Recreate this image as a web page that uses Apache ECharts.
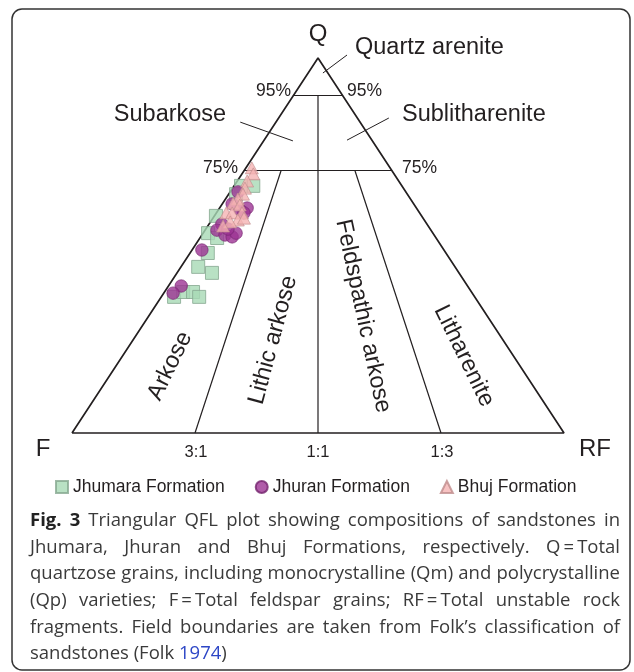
<!DOCTYPE html>
<html><head><meta charset="utf-8">
<script src="https://cdn.jsdelivr.net/npm/echarts@6/dist/echarts.min.js"></script>
<style>html,body{margin:0;padding:0;background:#fff}#c{width:634px;height:672px}</style>
</head><body><div id="c"></div>
<script>
// ---- data (ternary values [Q, F, RF] in %) ----
const seriesNames = ['Jhumara Formation', 'Jhuran Formation', 'Bhuj Formation'];
const jhumara = [
  [65.9,30.2,3.9],[65.9,32.7,1.4],[63.7,34.8,1.5],[57.9,41.8,0.3],[53.3,45.7,1.0],
  [52.0,44.5,3.5],[48.0,48.4,3.6],[44.3,52.2,3.5],[42.7,50.2,7.1],[36.3,61.1,2.6],
  [37.6,58.6,3.8],[37.6,56.6,5.8],[36.3,56.0,7.7]
];
const jhuran = [
  [64.3,34.1,1.6],[60.0,34.4,5.6],[59.5,36.1,4.4],[61.1,36.9,2.0],[55.7,41.7,2.6],
  [54.1,43.5,2.4],[52.8,42.5,4.7],[52.3,41.3,6.4],[53.3,40.0,6.7],[54.4,41.1,4.5],
  [58.7,35.7,5.6],[48.8,49.2,2.0],[39.2,58.2,2.6],[37.3,60.8,1.9]
];
const bhuj = [
  [70.7,28.1,1.2],[69.1,28.6,2.3],[67.2,30.8,2.0],[65.3,32.2,2.5],[63.7,33.4,2.9],
  [62.4,35.1,2.5],[61.3,36.6,2.1],[60.8,35.5,3.7],[58.7,39.3,2.0],[58.7,38.1,3.2],
  [58.7,36.1,5.2],[56.8,37.9,5.3],[56.3,39.7,4.0],[57.3,36.4,6.3],[55.2,41.7,3.1]
];
// field boundaries as drawn in the figure
const vertexQ = [100,0,0], vertexF = [0,100,0], vertexRF = [0,0,100];
const qLines = [90, 70];                 // drawn lines labelled 95% and 75%
const qLineLabels = ['95%', '75%'];
const ratioLines = [[0.75, 70], [0.5, 90], [0.25, 70]]; // [F/(F+RF), top Q]
const ratioLabels = ['3:1', '1:1', '1:3'];
// ---------------------------------------------

function tern(p){ const [q,f,rf] = p; const s=q+f+rf; return [ (rf + q/2)*100/s, q*100/s ]; }

const chart = echarts.init(document.getElementById('c'), null, {renderer:'canvas'});
const lineCol = '#231f20';
const mkLine = (pts, w) => ({ type:'line', data: pts.map(tern), symbol:'none', silent:true,
  lineStyle:{color:lineCol, width:w}, clip:false, animation:false, legendHoverLink:false });

const series = [];
series.push(mkLine([vertexF, vertexRF, vertexQ, vertexF], 1.7));
qLines.forEach(q => series.push(mkLine([[q,100-q,0],[q,0,100-q]], 1.2)));
ratioLines.forEach(([r,qt]) => series.push(mkLine([[qt,(100-qt)*r,(100-qt)*(1-r)],[0,100*r,100*(1-r)]], 1.2)));
// leader lines (cartesian data coords)
const leaders = [ [[51.0,96.0],[55.9,100.8]], [[34.2,82.9],[44.9,77.9]], [[64.4,84.0],[55.9,78.1]] ];
leaders.forEach(l => series.push({type:'line', data:l, symbol:'none', silent:true, clip:false,
  lineStyle:{color:lineCol, width:1}, animation:false}));

series.push({ name: seriesNames[0], type:'scatter', data: jhumara.map(tern), symbol:'rect', symbolSize:13,
  itemStyle:{color:'#a8dab5', borderColor:'#86a890', borderWidth:1}, z:3 });
series.push({ name: seriesNames[1], type:'scatter', data: jhuran.map(tern), symbol:'circle', symbolSize:12.5,
  itemStyle:{color:'#9c3394', borderColor:'#74246e', borderWidth:0.8}, z:4 });
series.push({ name: seriesNames[2], type:'scatter', data: bhuj.map(tern), symbol:'triangle', symbolSize:[13,12],
  itemStyle:{color:'#f5b3b3', borderColor:'#bf8c8c', borderWidth:0.8}, z:5 });

const lab = 'Liberation Sans';
const T = (x,y,text,size,align,rot) => ({ type:'text', x, y, rotation: (rot||0)*Math.PI/180,
  style:{ text, fontSize:size, fontFamily:lab, fill:lineCol, textAlign:align||'center', textVerticalAlign:'middle' }, z:10 });

const graphics = [
  { type:'rect', shape:{x:12, y:9, width:618, height:661, r:10}, style:{fill:'none', stroke:'#333', lineWidth:1.5}, z:0 },
  T(318,34,'Q',24), T(355,48,'Quartz arenite',23.5,'left'),
  T(291,91,qLineLabels[0],17.5,'right'), T(347,91,qLineLabels[0],17.5,'left'),
  T(170,115,'Subarkose',23.5), T(402,115,'Sublitharenite',23.5,'left'),
  T(238,168,qLineLabels[1],17.5,'right'), T(402,168,qLineLabels[1],17.5,'left'),
  T(43,449,'F',24), T(595,449,'RF',24),
  T(196,452,ratioLabels[0],16.5), T(318,452,ratioLabels[1],16.5), T(442,452,ratioLabels[2],16.5),
  T(170,366,'Arkose',23.5,'center',64), T(273,340,'Lithic arkose',23.5,'center',75),
  T(363,316,'Feldspathic arkose',23.5,'center',-78), T(464,356,'Litharenite',23.5,'center',-64)
];

// caption, justified
const capLines = [
  [['Fig.',1],['3',1],'Triangular','QFL','plot','showing','compositions','of','sandstones','in'],
  ['Jhumara,','Jhuran','and','Bhuj','Formations,','respectively.','Q\u2009=\u2009Total'],
  ['quartzose','grains,','including','monocrystalline','(Qm)','and','polycrystalline'],
  ['(Qp)','varieties;','F\u2009=\u2009Total','feldspar','grains;','RF\u2009=\u2009Total','unstable','rock'],
  ['fragments.','Field','boundaries','are','taken','from','Folk\u2019s','classification','of'],
  ['sandstones','(Folk',['1974',2],')']
];
const ctx = document.createElement('canvas').getContext('2d');
const capFont = '"Open Sans"';
function w(t, bold, fs){ ctx.font = (bold?'bold ':'') + fs + 'px ' + capFont; return ctx.measureText(t).width; }
const X0 = 30, X1 = 620, Y0 = 521, LH = 26.6;
let fs = 18.5;
let maxNat = 0;
capLines.slice(0,5).forEach(line => {
  let s = 0; line.forEach(it => { const t = typeof it==='string'?it:it[0]; s += w(t, Array.isArray(it)&&it[1]===1, fs); });
  s += (line.length-1)*w(' ', false, fs)*0.9; maxNat = Math.max(maxNat, s);
});
if (maxNat > X1-X0) fs = fs*(X1-X0)/maxNat;
capLines.forEach((line, li) => {
  const items = line.map(it => typeof it==='string' ? {t:it, k:0} : {t:it[0], k:it[1]});
  const widths = items.map(it => w(it.t, it.k===1, fs));
  const total = widths.reduce((a,b)=>a+b,0);
  const last = li === capLines.length-1;
  let gap = last ? w(' ', false, fs) : (X1-X0-total)/(items.length-1);
  let x = X0;
  items.forEach((it, i) => {
    if (last && it.t === ')') x -= gap; // no space before ')'
    graphics.push({ type:'text', x, y: Y0 + li*LH, style:{ text: it.t, fontSize: fs, fontFamily: capFont,
      fontWeight: it.k===1 ? 'bold' : 'normal', fill: it.k===1 ? '#222' : (it.k===2 ? '#2d46c6' : '#3a3a3a'),
      textAlign:'left', textVerticalAlign:'middle' }, z:10 });
    x += widths[i] + gap;
  });
});

chart.setOption({
  animation:false,
  grid:{ left:72, top:58, width:492, height:375 },
  xAxis:{ type:'value', min:0, max:100, show:false },
  yAxis:{ type:'value', min:0, max:100, show:false },
  legend:{ data: seriesNames, left:50, top:473, itemWidth:12, itemHeight:12, itemGap:30, selectedMode:false,
    textStyle:{ fontFamily:lab, fontSize:17.5, color:lineCol } },
  series,
  graphic: graphics
});
</script></body></html>
